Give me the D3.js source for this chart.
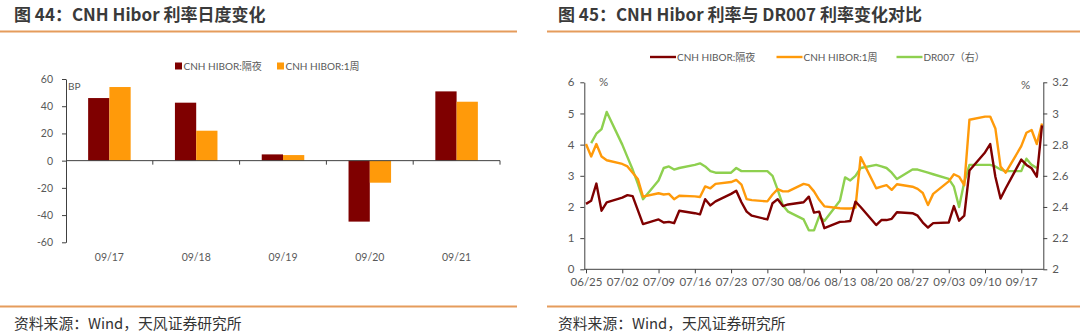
<!DOCTYPE html>
<html>
<head>
<meta charset="utf-8">
<script src="https://cdn.jsdelivr.net/npm/d3@7"></script>
<style>
  html, body { margin: 0; padding: 0; background: #fff; }
  svg { display: block; }
  text { font-family: Lato, "Noto Sans CJK SC", sans-serif; }
</style>
</head>
<body>
<svg id="chart" width="1080" height="336"></svg>
<script>
// ---------------- DATA ----------------
const titleLeft = "图 44：CNH Hibor 利率日度变化";
const titleRight = "图 45：CNH Hibor 利率与 DR007 利率变化对比";
const sourceText = "资料来源：Wind，天风证券研究所";

const seriesNames = ["CNH HIBOR:隔夜", "CNH HIBOR:1周", "DR007（右）"];

// Left chart: daily change (BP)
const barCategories = ["09/17", "09/18", "09/19", "09/20", "09/21"];
const barOvernight = [46, 42.6, 4.6, -44.8, 50.9];
const barWeek = [54.1, 22, 4.1, -16.2, 43.3];
const barTicks = [-60, -40, -20, 0, 20, 40, 60];

// Right chart: daily levels (2018)
const lineDates = [
  "06/25","06/26","06/27","06/28","06/29",
  "07/02","07/03","07/04","07/05","07/06",
  "07/09","07/10","07/11","07/12","07/13",
  "07/16","07/17","07/18","07/19","07/20",
  "07/23","07/24","07/25","07/26","07/27",
  "07/30","07/31","08/01","08/02","08/03",
  "08/06","08/07","08/08","08/09","08/10",
  "08/13","08/14","08/15","08/16","08/17",
  "08/20","08/21","08/22","08/23","08/24",
  "08/27","08/28","08/29","08/30","08/31",
  "09/03","09/04","09/05","09/06","09/07",
  "09/10","09/11","09/12","09/13","09/14",
  "09/17","09/18","09/19","09/20","09/21"
];
const hiborOvernight = [
  2.10, 2.20, 2.75, 1.88, 2.15,
  2.30, 2.38, 2.35, 1.90, 1.45,
  1.60, 1.50, 1.52, 1.48, 1.88,
  1.80, 1.76, 2.25, 2.05, 2.18,
  2.42, 2.52, 2.15, 1.85, 1.72,
  1.60, 2.12, 2.25, 2.03, 2.08,
  2.15, 2.33, 1.82, 1.85, 1.32,
  1.52, 1.53, 1.55, 2.17, 2.00,
  1.42, 1.58, 1.58, 1.62, 1.83,
  1.80, 1.72, 1.50, 1.34, 1.48,
  1.50, 2.03, 1.56, 1.72, 3.17,
  3.75, 4.02, 2.97, 2.27, 2.60,
  3.52, 3.35, 3.24, 2.97, 4.62
];
const hiborWeek = [
  4.02, 3.62, 4.02, 3.62, 3.50,
  3.38, 3.30, 3.10, 2.90, 2.33,
  2.44, 2.40, 2.42, 2.25, 2.36,
  2.34, 2.32, 2.66, 2.60, 2.74,
  2.80, 2.87, 2.72, 2.25, 2.22,
  2.18, 2.40, 2.57, 2.50, 2.50,
  2.74, 2.70, 2.50, 2.23, 2.02,
  1.96, 1.95, 1.95, 1.98, 3.60,
  2.60, 2.65, 2.70, 2.55, 2.73,
  2.65, 2.58, 2.45, 2.06, 2.42,
  2.82, 3.05, 2.97, 2.70, 4.80,
  4.90, 4.90, 4.52, 3.30, 3.10,
  3.95, 4.38, 4.47, 4.02, 4.68
];
const dr007 = [
  null, 2.81, 2.87, 2.90, 3.01,
  2.80, 2.72, 2.64, 2.55, 2.45,
  2.57, 2.65, 2.66, 2.64, 2.65,
  2.67, 2.68, 2.66, 2.63, 2.62,
  2.62, 2.65, 2.63, 2.63, 2.63,
  2.63, 2.60, 2.51, 2.41, 2.37,
  2.32, 2.25, 2.25, 2.34, 2.31,
  2.44, 2.59, 2.57, 2.60, 2.65,
  2.67, 2.66, 2.65, 2.62, 2.58,
  2.64, 2.64, 2.63, 2.62, 2.61,
  2.58, 2.53, 2.40, 2.56, 2.67,
  2.67, 2.67, 2.66, 2.64, 2.63,
  2.63, 2.71, 2.67, 2.65, null
];
const lineTickLabels = ["06/25","07/02","07/09","07/16","07/23","07/30","08/06","08/13","08/20","08/27","09/03","09/10","09/17"];
const leftTicks = [0, 1, 2, 3, 4, 5, 6];
const rightTicks = [2, 2.2, 2.4, 2.6, 2.8, 3, 3.2];

// ---------------- STYLE ----------------
const C_DARK = "#7F0000";
const C_ORANGE = "#FF9A0A";
const C_GREEN = "#8ED04F";
const C_AXIS = "#404040";
const C_TEXT = "#595959";
const C_RULE = "#E59C5C";
const plain = d => String(d);   // keeps ASCII hyphen for negatives

const svg = d3.select("#chart");
svg.append("rect").attr("width", 1080).attr("height", 336).attr("fill", "#fff");

// ---------- headers / footers ----------
function frame(x0, x1, tx, title) {
  svg.append("text").attr("x", tx).attr("y", 21)
    .style("font-family", "'Noto Sans CJK SC', sans-serif")
    .style("font-weight", "bold").style("font-size", "17px")
    .attr("fill", "#3a3a3a").text(title);
  svg.append("line").attr("x1", x0).attr("x2", x1).attr("y1", 31.5).attr("y2", 31.5)
    .attr("stroke", C_RULE).attr("stroke-width", 2);
  svg.append("line").attr("x1", x0).attr("x2", x1).attr("y1", 306.5).attr("y2", 306.5)
    .attr("stroke", C_RULE).attr("stroke-width", 2);
  svg.append("text").attr("x", tx).attr("y", 328.5)
    .style("font-family", "'Noto Sans CJK SC', sans-serif")
    .style("font-size", "14.8px").attr("fill", "#333").text(sourceText);
}
frame(0, 517, 14, titleLeft);
frame(547, 1080, 558, titleRight);

// ---------- LEFT: bar chart ----------
{
  const g = svg.append("g");
  const x0 = d3.scaleBand().domain(barCategories).range([66, 500]).paddingInner(0.51).paddingOuter(0.255);
  const x1 = d3.scaleBand().domain(["o", "w"]).range([0, x0.bandwidth()]);
  const y = d3.scaleLinear().domain([-60, 60]).range([242.3, 79]);

  const data = barCategories.map((c, i) => ({ c, o: barOvernight[i], w: barWeek[i] }));
  const grp = g.selectAll("g.cat").data(data).join("g").attr("transform", d => `translate(${x0(d.c)},0)`);
  grp.append("rect").attr("x", x1("o")).attr("width", x1.bandwidth())
    .attr("y", d => y(Math.max(0, d.o))).attr("height", d => Math.abs(y(d.o) - y(0))).attr("fill", C_DARK);
  grp.append("rect").attr("x", x1("w")).attr("width", x1.bandwidth())
    .attr("y", d => y(Math.max(0, d.w))).attr("height", d => Math.abs(y(d.w) - y(0))).attr("fill", C_ORANGE);

  // y axis
  const ya = g.append("g").attr("transform", "translate(66,0)")
    .call(d3.axisLeft(y).tickValues(barTicks).tickSize(4).tickSizeOuter(0).tickPadding(9).tickFormat(plain));
  ya.select(".domain").attr("stroke", C_AXIS);
  ya.selectAll(".tick line").attr("stroke", C_AXIS);
  ya.selectAll("text").style("font-size", "10.5px").attr("fill", C_TEXT);

  // x axis at zero
  const xs = d3.scaleLinear().domain([0, barCategories.length]).range([66, 500]);
  g.append("line").attr("x1", 66).attr("x2", 500).attr("y1", y(0)).attr("y2", y(0)).attr("stroke", C_AXIS);
  g.selectAll("line.ct").data(d3.range(1, barCategories.length + 1)).join("line").attr("class", "ct")
    .attr("x1", d => xs(d)).attr("x2", d => xs(d)).attr("y1", y(0)).attr("y2", y(0) + 4).attr("stroke", C_AXIS);
  g.selectAll("text.cl").data(barCategories).join("text").attr("class", "cl")
    .attr("x", d => x0(d) + x0.bandwidth() / 2).attr("y", 260.5)
    .attr("text-anchor", "middle").style("font-size", "10.5px").attr("fill", C_TEXT).text(d => d);

  g.append("text").attr("x", 68).attr("y", 90).style("font-size", "10px").attr("fill", C_TEXT).text("BP");

  // legend
  const leg = [{ n: seriesNames[0], c: C_DARK, x: 175 }, { n: seriesNames[1], c: C_ORANGE, x: 277 }];
  leg.forEach(l => {
    g.append("rect").attr("x", l.x).attr("y", 62.5).attr("width", 7).attr("height", 7).attr("fill", l.c);
    g.append("text").attr("x", l.x + 8.5).attr("y", 69.5).style("font-size", "10px").attr("fill", C_TEXT).text(l.n);
  });
}

// ---------- RIGHT: line chart ----------
{
  const g = svg.append("g");
  const parse = s => d3.timeParse("%Y/%m/%d")("2018/" + s);
  const dates = lineDates.map(parse);
  const x = d3.scaleTime().domain([parse("06/25"), parse("09/21")]).range([586, 1042]);
  const yL = d3.scaleLinear().domain([0, 6]).range([269.3, 82.3]);
  const yR = d3.scaleLinear().domain([2, 3.2]).range([269.3, 82.3]);
  const X0 = 584.3, X1 = 1043.3;

  // axes
  const yla = g.append("g").attr("transform", `translate(${X0},0)`)
    .call(d3.axisLeft(yL).tickValues(leftTicks).tickSize(4).tickSizeOuter(0).tickPadding(6).tickFormat(plain));
  yla.select(".domain").attr("stroke", C_AXIS);
  yla.selectAll(".tick line").attr("stroke", C_AXIS);
  yla.selectAll("text").style("font-size", "11.5px").attr("fill", C_TEXT);

  const yra = g.append("g").attr("transform", `translate(${X1},0)`)
    .call(d3.axisRight(yR).tickValues(rightTicks).tickSize(4).tickSizeOuter(0).tickPadding(5).tickFormat(plain));
  yra.select(".domain").attr("stroke", C_AXIS);
  yra.selectAll(".tick line").attr("stroke", C_AXIS);
  yra.selectAll("text").style("font-size", "11.5px").attr("fill", C_TEXT);

  const xa = g.append("g").attr("transform", `translate(0,${yL(0)})`)
    .call(d3.axisBottom(x).tickValues(lineTickLabels.map(parse)).tickSize(4).tickSizeOuter(0)
      .tickPadding(5).tickFormat(d3.timeFormat("%m/%d")));
  xa.select(".domain").remove();
  g.append("line").attr("x1", X0).attr("x2", X1).attr("y1", yL(0)).attr("y2", yL(0)).attr("stroke", C_AXIS);
  xa.selectAll(".tick line").attr("stroke", C_AXIS);
  xa.selectAll("text").style("font-size", "11.5px").attr("fill", C_TEXT);

  g.append("text").attr("x", 599).attr("y", 86).style("font-size", "11.5px").attr("fill", C_TEXT).text("%");
  g.append("text").attr("x", 1021).attr("y", 89).style("font-size", "11.5px").attr("fill", C_TEXT).text("%");

  const mk = (vals, ys) => d3.line().defined((d, i) => vals[i] != null)
    .x((d, i) => x(dates[i])).y((d, i) => ys(vals[i]))(dates);

  g.append("path").attr("d", mk(dr007, yR)).attr("fill", "none").attr("stroke", C_GREEN)
    .attr("stroke-width", 2.4).attr("stroke-linejoin", "round");
  g.append("path").attr("d", mk(hiborWeek, yL)).attr("fill", "none").attr("stroke", C_ORANGE)
    .attr("stroke-width", 2.4).attr("stroke-linejoin", "round");
  g.append("path").attr("d", mk(hiborOvernight, yL)).attr("fill", "none").attr("stroke", C_DARK)
    .attr("stroke-width", 2.4).attr("stroke-linejoin", "round");

  // legend
  const leg = [{ n: seriesNames[0], c: C_DARK, x: 650 }, { n: seriesNames[1], c: C_ORANGE, x: 776.5 },
               { n: seriesNames[2], c: C_GREEN, x: 896.5 }];
  leg.forEach(l => {
    g.append("line").attr("x1", l.x).attr("x2", l.x + 26).attr("y1", 57).attr("y2", 57)
      .attr("stroke", l.c).attr("stroke-width", 2.4);
    g.append("text").attr("x", l.x + 27).attr("y", 60.5).style("font-size", "10px").attr("fill", C_TEXT).text(l.n);
  });
}
</script>
</body>
</html>
